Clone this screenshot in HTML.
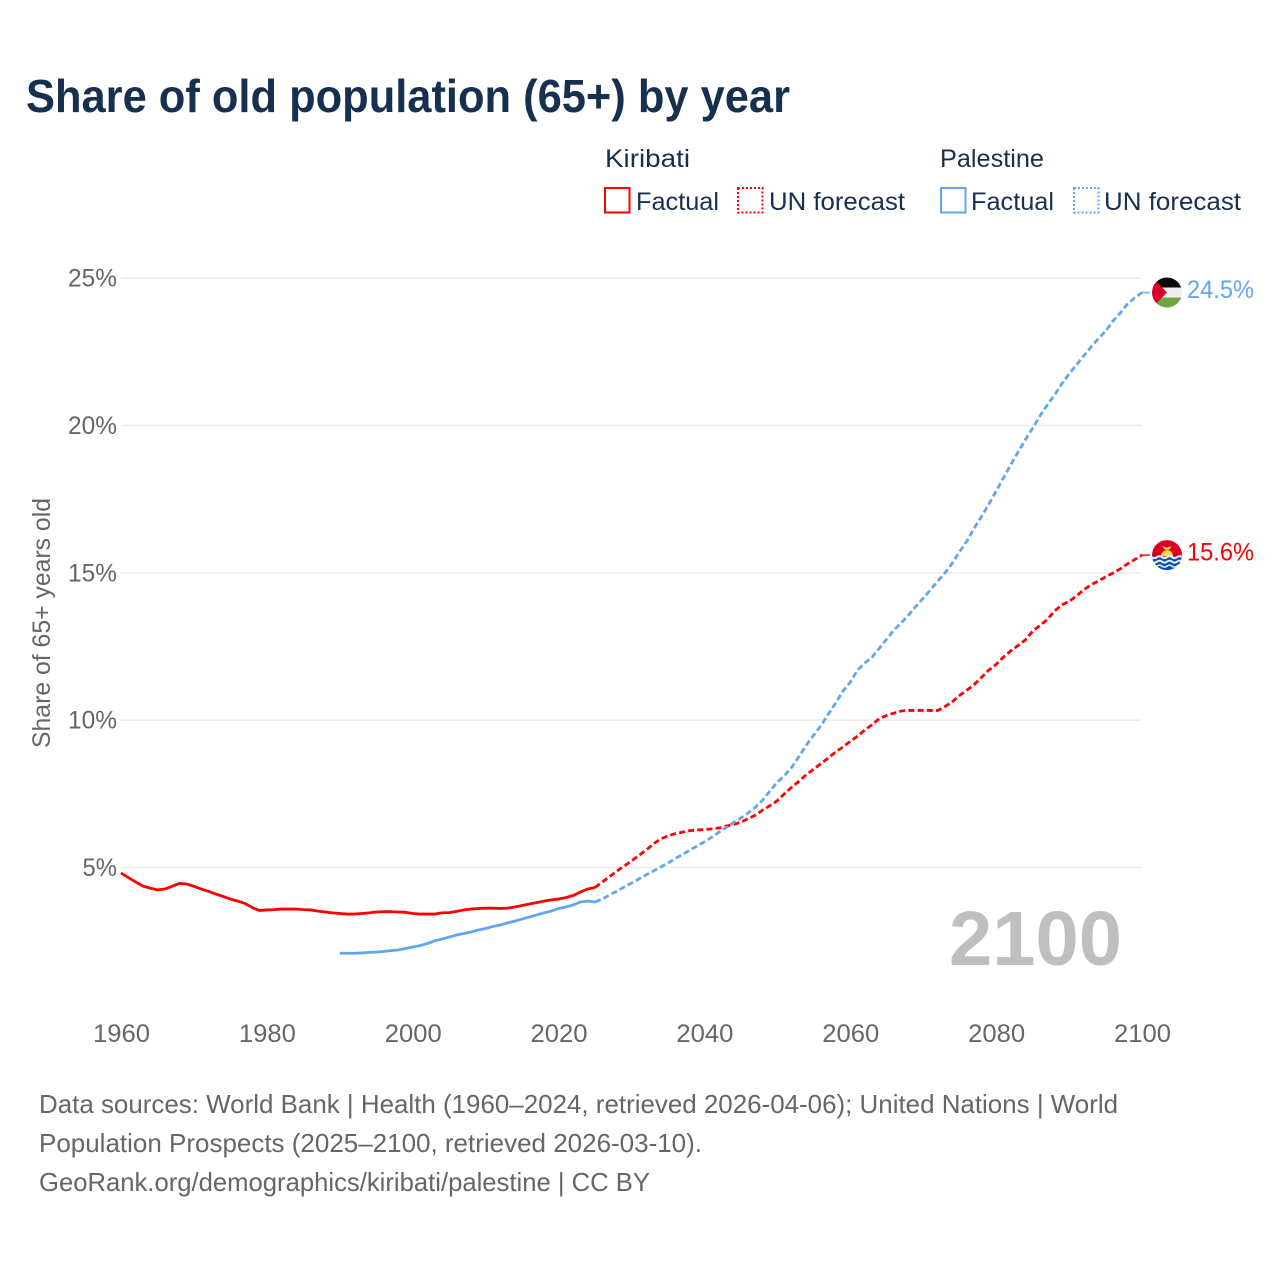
<!DOCTYPE html>
<html lang="en">
<head>
<meta charset="utf-8">
<title>Share of old population (65+) by year</title>
<style>
html,body{margin:0;padding:0;background:#fff;}
svg{display:block;}
text{font-family:"Liberation Sans",sans-serif;}
</style>
</head>
<body>
<svg id="chart" width="1280" height="1280" viewBox="0 0 1280 1280" xmlns="http://www.w3.org/2000/svg">
  <rect x="0" y="0" width="1280" height="1280" fill="#ffffff"/>
  <text x="26" y="112" font-size="46" font-weight="700" fill="#17304f" textLength="764" lengthAdjust="spacingAndGlyphs">Share of old population (65+) by year</text>

  <g font-size="25" fill="#17304f">
    <text x="605" y="167" textLength="85" lengthAdjust="spacingAndGlyphs">Kiribati</text>
    <rect x="605" y="188" width="24.5" height="24.5" fill="none" stroke="#ff0000" stroke-width="2"/>
    <text x="636" y="210" textLength="83" lengthAdjust="spacingAndGlyphs">Factual</text>
    <rect x="738" y="188" width="24.5" height="24.5" fill="none" stroke="#ff0000" stroke-width="2" stroke-dasharray="2 2"/>
    <text x="769" y="210" textLength="136" lengthAdjust="spacingAndGlyphs">UN forecast</text>
    <text x="940" y="167" textLength="104" lengthAdjust="spacingAndGlyphs">Palestine</text>
    <rect x="941" y="188" width="24.5" height="24.5" fill="none" stroke="#62a6ec" stroke-width="2"/>
    <text x="971" y="210" textLength="83" lengthAdjust="spacingAndGlyphs">Factual</text>
    <rect x="1074" y="188" width="24.5" height="24.5" fill="none" stroke="#62a6ec" stroke-width="2" stroke-dasharray="2 2"/>
    <text x="1104" y="210" textLength="137" lengthAdjust="spacingAndGlyphs">UN forecast</text>
  </g>

  <g id="grid"></g>
  <g id="yticks"></g>
  <g id="xticks"></g>

  <text transform="translate(50,748) rotate(-90)" x="0" y="0" font-size="25" fill="#666666" textLength="250" lengthAdjust="spacingAndGlyphs">Share of 65+ years old</text>

  <text x="949" y="965" font-size="77" font-weight="700" fill="#bfbfbf" textLength="173" lengthAdjust="spacingAndGlyphs">2100</text>

  <g id="series"></g>

  <defs>
    <clipPath id="flag-clip"><circle cx="0" cy="0" r="15"/></clipPath>
  </defs>

  <g id="flag-palestine">
    <g clip-path="url(#flag-clip)">
      <rect x="-15" y="-15" width="30" height="10" fill="#0a0a0a"/>
      <rect x="-15" y="-5" width="30" height="10" fill="#eeeeee"/>
      <rect x="-15" y="5" width="30" height="10" fill="#6da544"/>
      <polygon points="-15,-15 0,0 -15,15" fill="#d80027"/>
    </g>
  </g>

  <g id="flag-kiribati">
    <g clip-path="url(#flag-clip)">
      <rect x="-15" y="-15" width="30" height="16" fill="#d80027"/>
      <rect x="-15" y="1" width="30" height="14" fill="#0052b4"/>
      <path d="M-6,1 A6,6 0 0 1 6,1 Z" fill="#ffda44"/>
      <path d="M-5,-9 L0,-7.5 L5,-9 L2,-5.5 L-2,-5.5 Z" fill="#ffda44"/>
      <path d="M-15,2 q2.5,2 5,0 t5,0 t5,0 t5,0 t5,0 t5,0" fill="none" stroke="#f0f0f0" stroke-width="2"/>
      <path d="M-15,6.5 q2.5,2 5,0 t5,0 t5,0 t5,0 t5,0 t5,0" fill="none" stroke="#f0f0f0" stroke-width="2"/>
      <path d="M-15,11 q2.5,2 5,0 t5,0 t5,0 t5,0 t5,0 t5,0" fill="none" stroke="#f0f0f0" stroke-width="1.5"/>
    </g>
  </g>

  <text id="value-palestine" x="1187" font-size="25" fill="#62a6ec" textLength="67" lengthAdjust="spacingAndGlyphs"></text>
  <text id="value-kiribati" x="1187" font-size="25" fill="#ff0000" textLength="67" lengthAdjust="spacingAndGlyphs"></text>

  <g font-size="26" fill="#666666">
    <text x="39" y="1113" textLength="1079" lengthAdjust="spacingAndGlyphs">Data sources: World Bank | Health (1960–2024, retrieved 2026-04-06); United Nations | World</text>
    <text x="39" y="1152" textLength="663" lengthAdjust="spacingAndGlyphs">Population Prospects (2025–2100, retrieved 2026-03-10).</text>
    <text x="39" y="1191" textLength="611" lengthAdjust="spacingAndGlyphs">GeoRank.org/demographics/kiribati/palestine | CC BY</text>
  </g>
</svg>

<script>
const xTickYears = [1960, 1980, 2000, 2020, 2040, 2060, 2080, 2100];
const yTickValues = [5, 10, 15, 20, 25];

const kiribatiFactualStart = 1960;
const kiribatiFactual = [
  4.81, 4.66, 4.51, 4.37, 4.30, 4.24, 4.27, 4.36, 4.46, 4.44,
  4.36, 4.27, 4.19, 4.10, 4.02, 3.93, 3.86, 3.78, 3.64, 3.54,
  3.56, 3.57, 3.59, 3.59, 3.59, 3.57, 3.56, 3.52, 3.49, 3.46,
  3.44, 3.42, 3.42, 3.44, 3.46, 3.49, 3.50, 3.50, 3.49, 3.48,
  3.44, 3.42, 3.42, 3.42, 3.46, 3.47, 3.51, 3.56, 3.59, 3.61,
  3.62, 3.62, 3.61, 3.62, 3.66, 3.71, 3.76, 3.81, 3.86, 3.90,
  3.93, 3.98, 4.05, 4.17, 4.27, 4.32
];

const kiribatiForecastStart = 2025;
const kiribatiForecast = [
  4.32, 4.51, 4.69, 4.88, 5.05, 5.22, 5.41, 5.59, 5.80, 5.97,
  6.07, 6.15, 6.20, 6.25, 6.27, 6.29, 6.31, 6.34, 6.41, 6.46,
  6.54, 6.66, 6.78, 6.95, 7.10, 7.27, 7.51, 7.73, 7.93, 8.16,
  8.34, 8.53, 8.72, 8.92, 9.09, 9.28, 9.46, 9.67, 9.85, 10.06,
  10.16, 10.24, 10.31, 10.33, 10.33, 10.33, 10.33, 10.33, 10.46, 10.63,
  10.84, 11.02, 11.21, 11.45, 11.70, 11.89, 12.14, 12.35, 12.53, 12.72,
  13.02, 13.21, 13.41, 13.70, 13.91, 14.03, 14.21, 14.42, 14.59, 14.72,
  14.86, 14.99, 15.13, 15.30, 15.45, 15.60
];

const palestineFactualStart = 1990;
const palestineFactual = [
  2.09, 2.09, 2.09, 2.10, 2.12, 2.13, 2.15, 2.18, 2.20, 2.25,
  2.30, 2.35, 2.42, 2.51, 2.57, 2.64, 2.71, 2.76, 2.81, 2.88,
  2.93, 3.00, 3.05, 3.12, 3.18, 3.25, 3.32, 3.39, 3.46, 3.52,
  3.61, 3.66, 3.73, 3.83, 3.86, 3.83
];

const palestineForecastStart = 2025;
const palestineForecast = [
  3.83, 3.93, 4.07, 4.20, 4.34, 4.47, 4.61, 4.75, 4.88, 5.02,
  5.15, 5.31, 5.44, 5.59, 5.73, 5.87, 6.03, 6.20, 6.36, 6.53,
  6.68, 6.85, 7.05, 7.29, 7.60, 7.90, 8.12, 8.41, 8.78, 9.16,
  9.50, 9.82, 10.21, 10.58, 10.99, 11.29, 11.70, 11.94, 12.14, 12.45,
  12.75, 13.06, 13.30, 13.57, 13.86, 14.14, 14.42, 14.72, 15.00, 15.33,
  15.72, 16.08, 16.52, 16.91, 17.33, 17.77, 18.22, 18.66, 19.10, 19.51,
  19.91, 20.32, 20.69, 21.03, 21.41, 21.75, 22.05, 22.36, 22.66, 22.94,
  23.20, 23.54, 23.81, 24.12, 24.33, 24.51
];

const NS = 'http://www.w3.org/2000/svg';
function xScale(year) { return 121 + (year - 1960) * (1021 / 140); }
function yScale(value) { return 867.5 - (value - 5) * 29.47; }
function make(tag, attrs, parent) {
  const el = document.createElementNS(NS, tag);
  Object.keys(attrs).forEach(function (k) { el.setAttribute(k, attrs[k]); });
  parent.appendChild(el);
  return el;
}
function pathFor(values, startYear) {
  return values.map(function (v, i) {
    return (i ? 'L' : 'M') + xScale(startYear + i).toFixed(2) + ',' + yScale(v).toFixed(2);
  }).join(' ');
}

const gridGroup = document.getElementById('grid');
const yGroup = document.getElementById('yticks');
const xGroup = document.getElementById('xticks');
const seriesGroup = document.getElementById('series');

yTickValues.forEach(function (v) {
  const line = make('line', { x1: 121, x2: 1141.5, y1: yScale(v), y2: yScale(v), stroke: '#ececec', 'stroke-width': 1.6 }, gridGroup);
  
  
  const label = String(v) + '%';
  const t = make('text', { x: 117, y: yScale(v) + 8.5, 'text-anchor': 'end', 'font-size': 25, fill: '#666666', textLength: (label.length - 1) * 14.5 + 20, lengthAdjust: 'spacingAndGlyphs' }, yGroup);
  t.textContent = label;
  
  
});

xTickYears.forEach(function (yr) {
  const t = make('text', { x: xScale(yr) + 0.5, y: 1042, 'text-anchor': 'middle', 'font-size': 25, fill: '#666666', textLength: 57, lengthAdjust: 'spacingAndGlyphs' }, xGroup);
  t.textContent = String(yr);
  
  
});

const RED = '#ff0000';
const BLUE = '#62a6ec';

const lineBlueFactual = make('path', { d: pathFor(palestineFactual, palestineFactualStart), fill: 'none', stroke: BLUE, 'stroke-width': 2.8, 'stroke-linejoin': 'round' }, seriesGroup);



const lineRedFactual = make('path', { d: pathFor(kiribatiFactual, kiribatiFactualStart), fill: 'none', stroke: RED, 'stroke-width': 2.8, 'stroke-linejoin': 'round' }, seriesGroup);



const lineRedForecast = make('path', { d: pathFor(kiribatiForecast, kiribatiForecastStart), fill: 'none', stroke: RED, 'stroke-width': 2.8, 'stroke-dasharray': '6 3.2' }, seriesGroup);



const lineBlueForecast = make('path', { d: pathFor(palestineForecast, palestineForecastStart), fill: 'none', stroke: BLUE, 'stroke-width': 2.8, 'stroke-dasharray': '6 3.2' }, seriesGroup);



function placeEnd(values, color, flagId, labelId, seriesName) {
  const last = values[values.length - 1];
  const y = yScale(last);
  const link = make('line', { x1: 1142, x2: 1150, y1: y, y2: y, stroke: color, 'stroke-width': 1.8, opacity: 0.8 }, seriesGroup);
  
  
  document.getElementById(flagId).setAttribute('transform', 'translate(1167,' + y + ')');
  const label = document.getElementById(labelId);
  label.setAttribute('y', y + 5.5);
  label.textContent = last.toFixed(1) + '%';
}
placeEnd(palestineForecast, BLUE, 'flag-palestine', 'value-palestine', 'palestine');
placeEnd(kiribatiForecast, RED, 'flag-kiribati', 'value-kiribati', 'kiribati');
</script>
</body>
</html>
